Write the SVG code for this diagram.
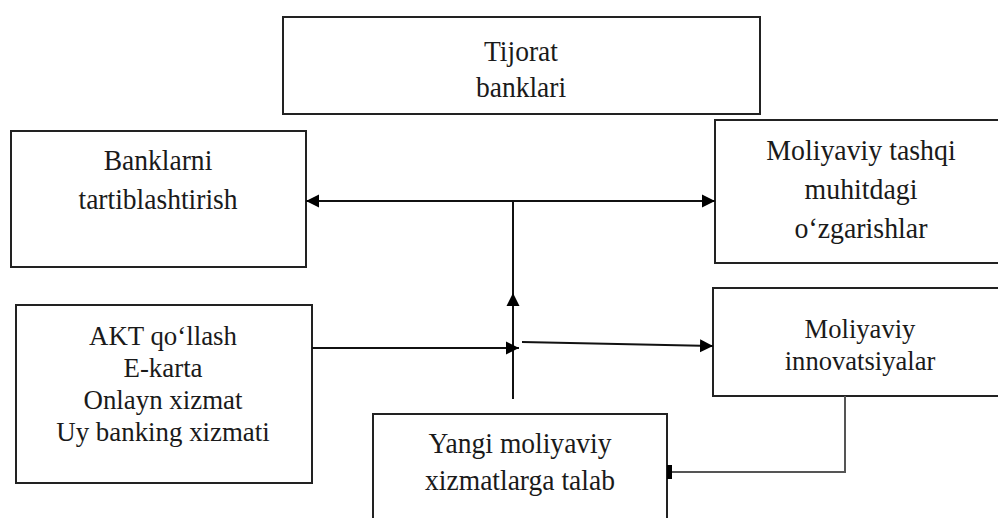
<svg xmlns="http://www.w3.org/2000/svg" width="998" height="518" viewBox="0 0 998 518">
<style>
.box{fill:#fff;stroke:#222;stroke-width:2}
.lbl{font-family:"Liberation Serif","Times New Roman",serif;font-size:29px;fill:#1a1a1a;text-anchor:middle}
.sm{font-size:28px}
.ln{fill:none;stroke:#111;stroke-width:2}
.ln2{fill:none;stroke:#555;stroke-width:2}
</style>
<defs>
<marker id="ah" markerUnits="userSpaceOnUse" markerWidth="14" markerHeight="14" refX="13" refY="6.5" orient="auto-start-reverse" viewBox="0 0 14 13">
<path d="M0,0 L13,6.5 L0,13 z" fill="#000"/>
</marker>
<marker id="tick" markerUnits="userSpaceOnUse" markerWidth="6" markerHeight="16" refX="5" refY="7" orient="auto" viewBox="0 0 6 14">
<path d="M0,0 L5,0 L5,14 L0,14 z" fill="#000"/>
</marker>
</defs>
<rect width="998" height="518" fill="#fff"/>

<g id="tijorat">
<rect class="box" x="283" y="17" width="477" height="97"/>
<g transform="translate(521 0) scale(0.95 1)">
<text class="lbl" x="0" y="61">Tijorat</text>
<text class="lbl" x="0" y="97">banklari</text>
</g>
</g>

<g id="banklarni">
<rect class="box" x="11" y="131" width="295" height="136"/>
<g transform="translate(158 0) scale(0.95 1)">
<text class="lbl" x="0" y="170">Banklarni</text>
<text class="lbl" x="0" y="209">tartiblashtirish</text>
</g>
</g>

<g id="tashqi">
<rect class="box" x="715" y="120" width="292" height="143"/>
<g transform="translate(861 0) scale(0.96 1)">
<text class="lbl" x="0" y="160">Moliyaviy  tashqi</text>
<text class="lbl" x="0" y="199">muhitdagi</text>
<text class="lbl" x="0" y="238">o‘zgarishlar</text>
</g>
</g>

<g id="akt">
<rect class="box" x="16" y="305" width="296" height="178"/>
<g transform="translate(163 0) scale(0.96 1)">
<text class="lbl sm" x="0" y="345">AKT qo‘llash</text>
<text class="lbl sm" x="0" y="377">E-karta</text>
<text class="lbl sm" x="0" y="409">Onlayn xizmat</text>
<text class="lbl sm" x="0" y="441">Uy banking xizmati</text>
</g>
</g>

<g id="innovatsiyalar">
<rect class="box" x="713" y="288" width="294" height="108"/>
<g transform="translate(860 0) scale(0.95 1)">
<text class="lbl sm" x="0" y="338">Moliyaviy</text>
<text class="lbl sm" x="0" y="370">innovatsiyalar</text>
</g>
</g>

<g id="yangi">
<rect class="box" x="373" y="414" width="294" height="120"/>
<g transform="translate(520 0) scale(0.95 1)">
<text class="lbl" x="0" y="453">Yangi moliyaviy</text>
<text class="lbl" x="0" y="490">xizmatlarga  talab</text>
</g>
</g>

<g id="connectors">
<path class="ln" d="M306,201 L715,201" marker-start="url(#ah)" marker-end="url(#ah)"/>
<path class="ln" d="M513,201 L513,294"/>
<path class="ln" d="M513,399 L513,293" marker-end="url(#ah)"/>
<path class="ln" d="M312,348 L519,348" marker-end="url(#ah)"/>
<path class="ln" stroke-width="1.6" d="M522,342 L713,346" marker-end="url(#ah)"/>
<path class="ln2" d="M845,396 L845,472 L667,472" marker-end="url(#tick)"/>
</g>
</svg>
